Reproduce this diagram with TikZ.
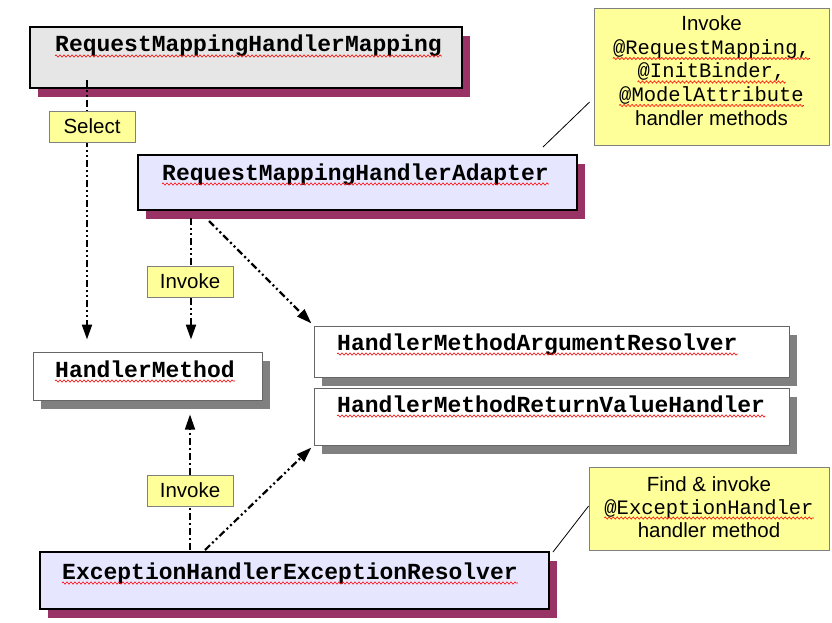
\documentclass[tikz,border=0pt]{standalone}
\usepackage{fontspec}
\setmainfont{Liberation Sans}
\newfontfamily\codefont{Liberation Mono}
\usetikzlibrary{arrows.meta,shadows,decorations.pathmorphing}

\definecolor{mapfill}{HTML}{E6E6E6}
\definecolor{adaptfill}{HTML}{E6E6FF}
\definecolor{notefill}{HTML}{FFFF99}
\definecolor{notedraw}{HTML}{808080}
\definecolor{shadowred}{HTML}{993366}
\definecolor{shadowgray}{HTML}{808080}

\begin{document}
\begin{tikzpicture}[
        x=1pt, y=-1pt,
        box/.style={draw, rectangle, inner sep=0pt},
        strongbox/.style={box, line width=2.6pt},
        plainbox/.style={box, draw=black!60, line width=1pt, fill=white,
            drop shadow={shadow xshift=8pt, shadow yshift=-9pt, fill=shadowgray, opacity=1}},
        redshadow/.style={drop shadow={shadow xshift=8pt, shadow yshift=-9pt, fill=shadowred, opacity=1}},
        classname/.style={anchor=base west, inner sep=0pt, font=\codefont\bfseries\fontsize{23}{27}\selectfont},
        tag/.style={box, draw=notedraw, line width=0.8pt, fill=notefill, minimum width=86pt, minimum height=31pt, font=\fontsize{20.5}{24}\selectfont},
        note/.style={box, draw=notedraw, line width=0.8pt, fill=notefill},
        noteline/.style={anchor=base, inner sep=0pt, font=\fontsize{20.5}{24}\selectfont},
        codeline/.style={noteline, font=\codefont\fontsize{20.5}{24}\selectfont},
        spell/.style={draw=red, line width=0.6pt, decorate, decoration={zigzag, segment length=4pt, amplitude=1.1pt}},
        call/.style={line width=2.2pt, dash pattern=on 7pt off 3pt on 2pt off 3pt on 2pt off 3pt, -{Triangle[length=15pt,width=10pt]}}
    ]
    \useasboundingbox (0,0) rectangle (832,623);

    % Class boxes at explicit pixel coordinates
    \node[strongbox, redshadow, fill=mapfill, minimum width=432pt, minimum height=61pt] (map) at (246,57.5) {};
    \node[strongbox, redshadow, fill=adaptfill, minimum width=439pt, minimum height=55pt] (adapt) at (357.5,182.5) {};
    \node[plainbox, minimum width=229pt, minimum height=48pt] (hm) at (147.5,376) {};
    \node[plainbox, minimum width=475pt, minimum height=51pt] (arg) at (551.5,351.5) {};
    \node[plainbox, minimum width=475pt, minimum height=57pt] (ret) at (551.5,416.5) {};
    \node[strongbox, redshadow, fill=adaptfill, minimum width=509pt, minimum height=57pt] (exc) at (294.5,580.5) {};

    % Class names
    \node[classname] (mapT) at (55,52) {RequestMappingHandlerMapping};
    \node[classname] (adaptT) at (162,180) {RequestMappingHandlerAdapter};
    \node[classname] (hmT) at (55,377) {HandlerMethod};
    \node[classname] (argT) at (337,350) {HandlerMethodArgumentResolver};
    \node[classname] (retT) at (337,412) {HandlerMethodReturnValueHandler};
    \node[classname] (excT) at (62,579) {ExceptionHandlerExceptionResolver};

    % Start points of the calls
    \coordinate (selA) at (87,80);
    \coordinate (inv1A) at (191,218);
    \coordinate (diag1A) at (209,221);
    \coordinate (inv2A) at (190,550);
    \coordinate (diag2A) at (205,550);

    % Calls down
    \draw[call] (selA) -- ([yshift=12pt]selA |- hm.north);
    \draw[call] (inv1A) -- ([yshift=12pt]inv1A |- hm.north);
    \draw[call, shorten >=3pt] (diag1A) -- (arg.north west);

    % Calls up
    \draw[call, line width=1.4pt, dash pattern=on 7pt off 3pt on 2pt off 3pt] (inv2A) -- ([yshift=-14pt]inv2A |- hm.south);
    \draw[call, shorten >=3pt] (diag2A) -- (ret.south west);

    % Call labels
    \node[tag] (sel) at (92,126.5) {Select};
    \node[tag] (inv1) at (190,281.5) {Invoke};
    \node[tag] (inv2) at (190,490.5) {Invoke};

    % Notes with their pointers
    \node[note, minimum width=235pt, minimum height=137pt] (noteA) at (711.5,76.5) {};
    \node[noteline] (noteA1) at (711.5,31) {Invoke};
    \node[codeline] (noteA2) at (711.5,54.5) {@RequestMapping,};
    \node[codeline] (noteA3) at (711.5,78) {@InitBinder,};
    \node[codeline] (noteA4) at (711.5,101.5) {@ModelAttribute};
    \node[noteline] (noteA5) at (711.5,125) {handler methods};
    \node[note, minimum width=240pt, minimum height=83pt] (noteB) at (709,508.5) {};
    \node[noteline] (noteB1) at (709,491) {Find \& invoke};
    \node[codeline] (noteB2) at (709,514) {@ExceptionHandler};
    \node[noteline] (noteB3) at (709,537.5) {handler method};
    \coordinate (noteAend) at (543,147);
    \coordinate (noteBend) at (553,552);
    \draw[line width=0.8pt] ([shift={(-4,25.5)}]noteA.west) -- (noteAend);
    \draw[line width=0.8pt] ([shift={(0,-2.5)}]noteB.west) -- (noteBend);

    % Spell-check waves
    \foreach \t in {mapT, adaptT, hmT, argT, retT, excT, noteA2, noteA3, noteA4, noteB2}
        \draw[spell] ([yshift=-4pt]\t.base west) -- ([yshift=-4pt]\t.base east);

\end{tikzpicture}
\end{document}
